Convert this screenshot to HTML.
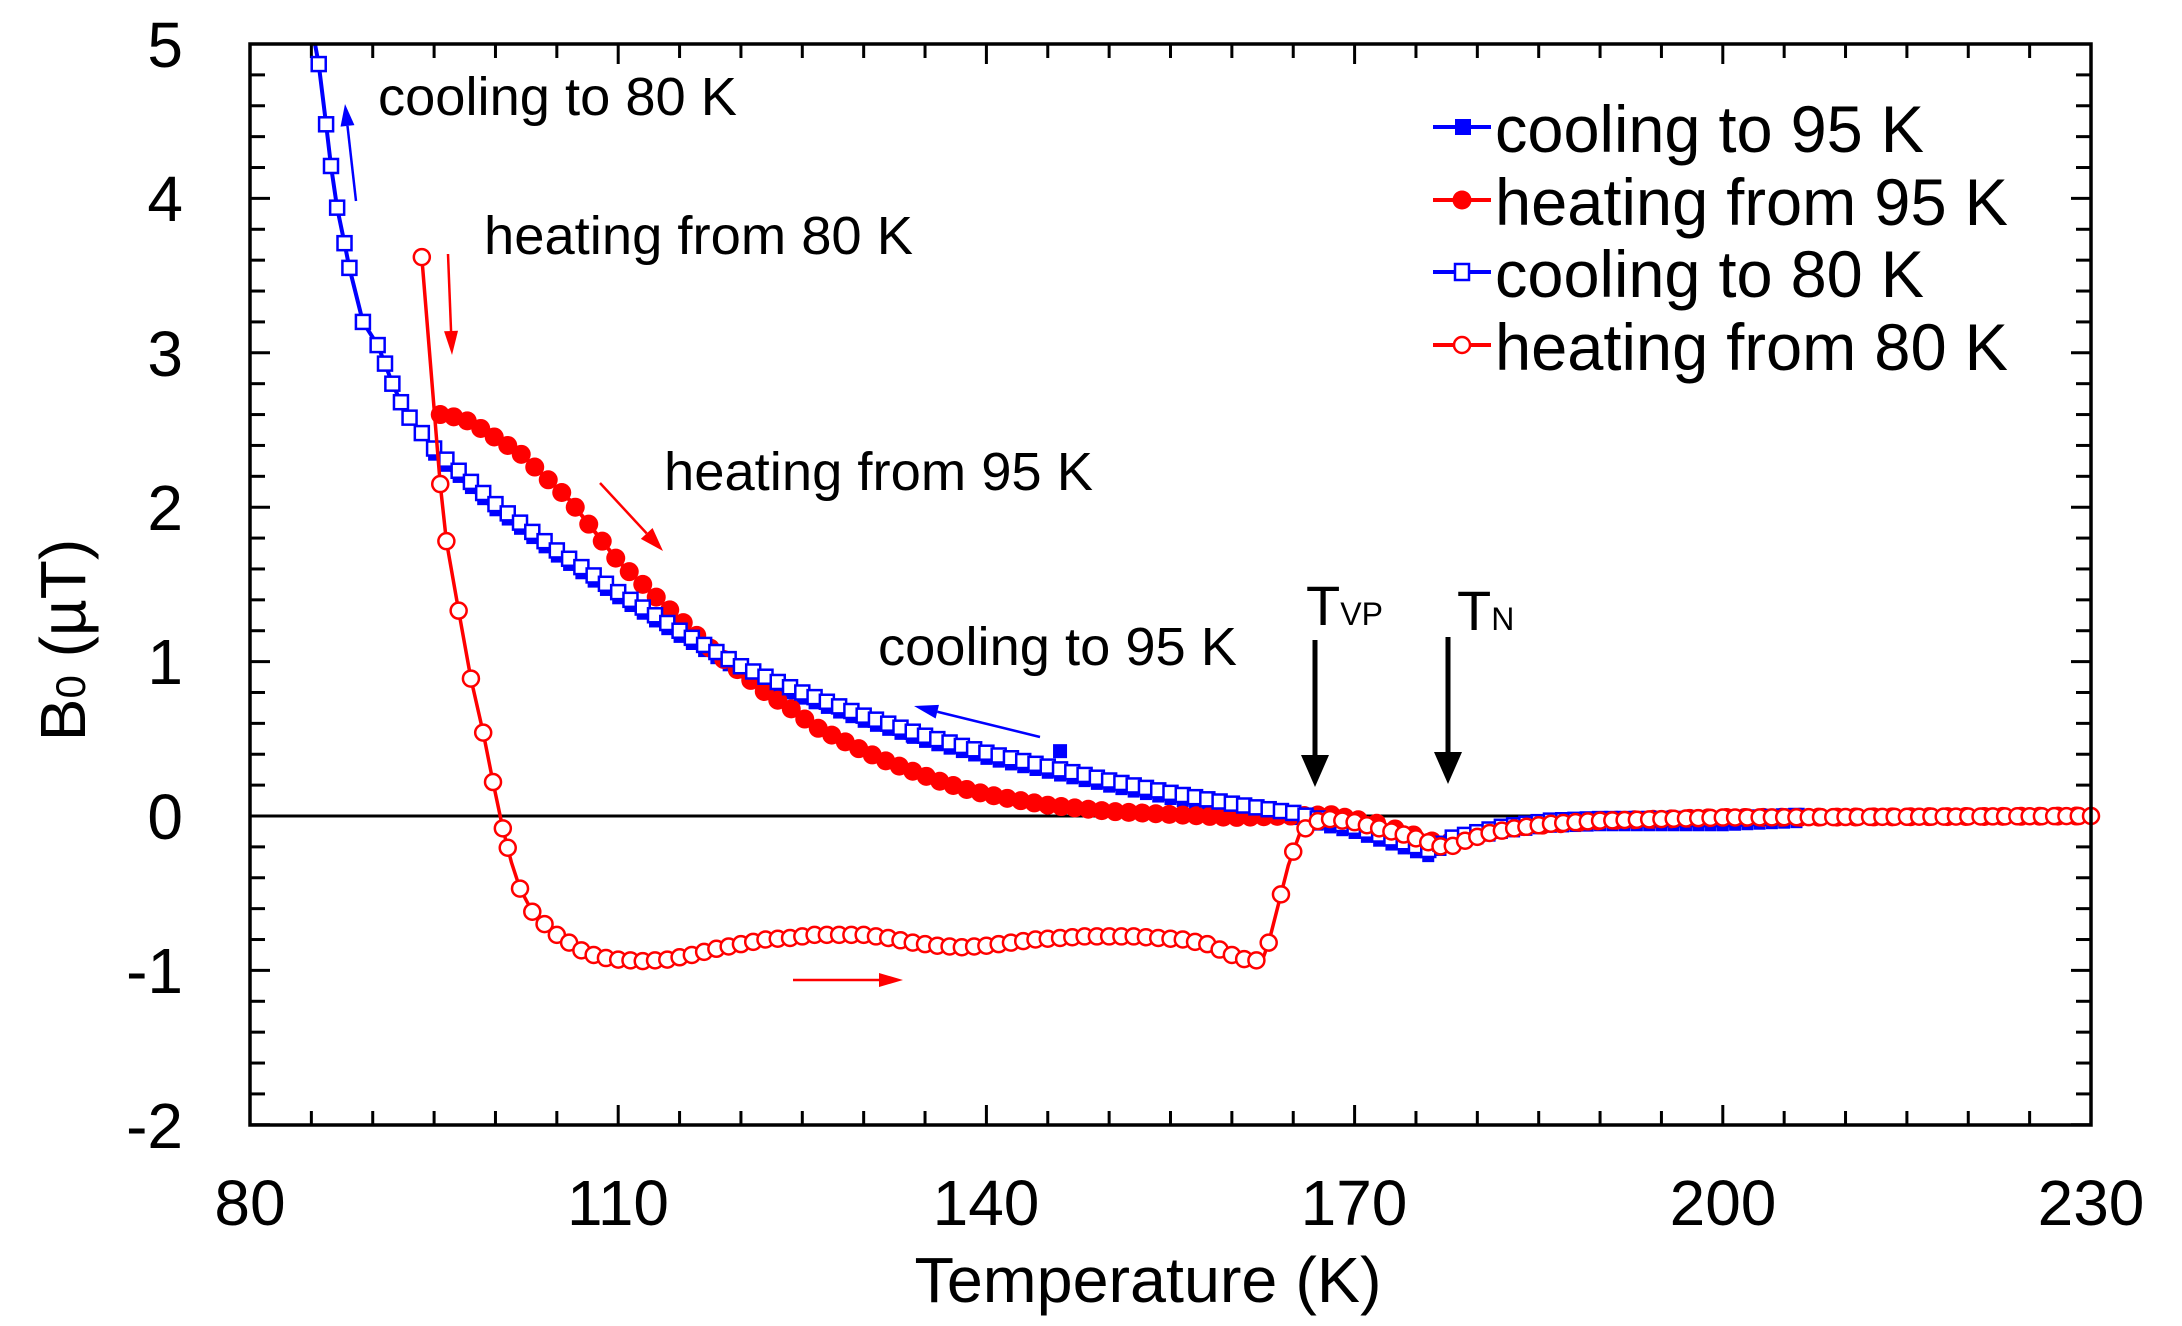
<!DOCTYPE html>
<html><head><meta charset="utf-8"><style>html,body{margin:0;padding:0;background:#fff}svg{display:block}</style></head>
<body>
<svg id="s" xmlns="http://www.w3.org/2000/svg" width="2182" height="1326" viewBox="0 0 2182 1326" font-family="Liberation Sans, Arial, sans-serif">
<rect width="2182" height="1326" fill="#fff"/>
<g id="ticks" stroke="#000" stroke-width="3"></g>
<line x1="250" y1="816" x2="2091" y2="816" stroke="#000" stroke-width="3"/>
<g id="data"></g>
<rect x="250" y="44" width="1841" height="1081" fill="none" stroke="#000" stroke-width="3.5"/>
<g font-size="64" fill="#000">
<text x="183" y="67" text-anchor="end">5</text>
<text x="183" y="221" text-anchor="end">4</text>
<text x="183" y="376" text-anchor="end">3</text>
<text x="183" y="530" text-anchor="end">2</text>
<text x="183" y="684" text-anchor="end">1</text>
<text x="183" y="839" text-anchor="end">0</text>
<text x="183" y="993" text-anchor="end">-1</text>
<text x="183" y="1148" text-anchor="end">-2</text>
<text x="250" y="1225" text-anchor="middle">80</text>
<text x="618" y="1225" text-anchor="middle">110</text>
<text x="986" y="1225" text-anchor="middle">140</text>
<text x="1354" y="1225" text-anchor="middle">170</text>
<text x="1723" y="1225" text-anchor="middle">200</text>
<text x="2091" y="1225" text-anchor="middle">230</text>
<text x="1148" y="1302" text-anchor="middle" font-size="64" textLength="467" lengthAdjust="spacingAndGlyphs">Temperature (K)</text>
<text transform="translate(85,640) rotate(-90)" text-anchor="middle" font-size="64">B<tspan font-size="42">0</tspan> (µT)</text>
</g>
<g font-size="54" fill="#000">
<text x="378" y="115" textLength="359" lengthAdjust="spacingAndGlyphs">cooling to 80 K</text>
<text x="484" y="254" textLength="429" lengthAdjust="spacingAndGlyphs">heating from 80 K</text>
<text x="664" y="490" textLength="429" lengthAdjust="spacingAndGlyphs">heating from 95 K</text>
<text x="878" y="665" textLength="359" lengthAdjust="spacingAndGlyphs">cooling to 95 K</text>
<text x="1306" y="625" font-size="56">T<tspan font-size="32">VP</tspan></text>
<text x="1457" y="630" font-size="56">T<tspan font-size="32">N</tspan></text>
</g>
<g font-size="66" fill="#000">
<text x="1495" y="152" textLength="429" lengthAdjust="spacingAndGlyphs">cooling to 95 K</text>
<text x="1495" y="225" textLength="513" lengthAdjust="spacingAndGlyphs">heating from 95 K</text>
<text x="1495" y="297" textLength="429" lengthAdjust="spacingAndGlyphs">cooling to 80 K</text>
<text x="1495" y="370" textLength="513" lengthAdjust="spacingAndGlyphs">heating from 80 K</text>
</g>
<g id="leg"></g>
<g id="arrows"></g>
</svg>
<script>
var NS="http://www.w3.org/2000/svg";
function X(t){return 250+(t-80)*1841/150;}
function Y(b){return 816-b*154.4;}
function el(p,tag,a){var e=document.createElementNS(NS,tag);for(var k in a)e.setAttribute(k,a[k]);p.appendChild(e);return e;}
var tk=document.getElementById('ticks');
for(var v=-2;v<=5.001;v+=0.2){var vv=Math.round(v*10)/10;var maj=Math.abs(vv-Math.round(vv))<1e-6;var L=maj?20:15;var y=Y(vv);
 el(tk,'line',{x1:250,y1:y,x2:250+L,y2:y});el(tk,'line',{x1:2091,y1:y,x2:2091-L,y2:y});}
for(var t=80;t<=230;t+=5){var maj=(t-80)%30==0;var L=maj?20:14;var x=X(t);el(tk,'line',{x1:x,y1:1125,x2:x,y2:1125-L});el(tk,'line',{x1:x,y1:44,x2:x,y2:44+L});}
function interp(k,t){for(var i=0;i<k.length-1;i++){if(t>=k[i][0]&&t<=k[i+1][0]){var f=(t-k[i][0])/(k[i+1][0]-k[i][0]);return k[i][1]+f*(k[i+1][1]-k[i][1]);}}return k[k.length-1][1];}
function path(k){return k.map(function(p,i){return (i?'L':'M')+X(p[0]).toFixed(1)+','+Y(p[1]).toFixed(1);}).join('');}
var D=document.getElementById('data');
var blue=[[85.3,5.0],[85.6,4.87],[86.2,4.48],[86.6,4.21],[87.1,3.94],[87.7,3.71],[88.1,3.55],[89.2,3.2],[90.4,3.05],[91,2.93],[91.6,2.8],[92.3,2.68],[93,2.58],[95,2.38],[100,2.02],[105,1.72],[110,1.45],[115,1.2],[120,0.97],[125,0.8],[130,0.65],[135,0.52],[140,0.41],[145,0.32],[150,0.23],[155,0.15],[160,0.08],[165,0.02],[170,-0.07],[176,-0.22],[178,-0.14],[182,-0.07],[186,-0.03],[190,-0.02],[200,-0.02],[206,0]];
var blueF=[];for(var t=95;t<=206;t+=1){blueF.push([t,interp(blue,t)-0.04]);}
var red95=[[95.5,2.6],[97,2.58],[98,2.55],[100,2.45],[102,2.35],[104,2.2],[106,2.05],[108,1.85],[110,1.65],[112,1.5],[114,1.35],[116,1.2],[118,1.05],[120,0.93],[122,0.8],[124,0.7],[126,0.58],[128,0.5],[130,0.42],[132,0.35],[134,0.29],[136,0.23],[138,0.18],[140,0.14],[142,0.11],[145,0.07],[150,0.03],[155,0.01],[160,-0.01],[165,0.0],[168,0.01],[172,-0.05],[177,-0.18],[182,-0.08],[190,-0.03],[200,-0.01],[230,0]];
var red80=[[94,3.62],[95.5,2.15],[96,1.78],[97,1.33],[98,0.89],[99,0.54],[99.8,0.22],[100.6,-0.08],[101.3,-0.3],[102,-0.47],[103,-0.62],[104,-0.7],[105,-0.77],[106,-0.82],[107,-0.87],[108,-0.9],[109,-0.92],[110,-0.93],[112,-0.94],[114,-0.93],[116,-0.9],[118,-0.86],[120,-0.83],[122,-0.8],[124,-0.79],[126,-0.77],[128,-0.77],[130,-0.77],[132,-0.79],[134,-0.82],[136,-0.84],[138,-0.85],[140,-0.84],[142,-0.82],[144,-0.8],[146,-0.79],[148,-0.78],[150,-0.78],[152,-0.78],[154,-0.79],[156,-0.8],[158,-0.83],[160,-0.9],[161.5,-0.94],[162.5,-0.93],[163,-0.82],[164.6,-0.32],[165.5,-0.12],[166.5,-0.04],[168,-0.02],[170,-0.04],[172,-0.08],[174,-0.12],[176,-0.17],[177.5,-0.21],[179,-0.16],[181,-0.11],[183,-0.08],[186,-0.05],[190,-0.03],[195,-0.02],[200,-0.01],[230,0]];
el(D,'path',{d:path(blueF),fill:'none',stroke:'#0000ff','stroke-width':4});
blueF.forEach(function(p){el(D,'rect',{x:X(p[0])-6,y:Y(p[1])-6,width:12,height:12,fill:'#0000ff'});});
el(D,'rect',{x:X(146)-7,y:Y(0.42)-7,width:14,height:14,fill:'#0000ff'});
el(D,'rect',{x:X(134)-7,y:Y(0.52)-7,width:14,height:14,fill:'#0000ff'});
var r95=[];for(var t=95.5;t<=230;t+=(t<170?1.1:1.5)){r95.push([t,interp(red95,t)]);}
el(D,'path',{d:path(red95),fill:'none',stroke:'#ff0000','stroke-width':4});
r95.forEach(function(p){el(D,'circle',{cx:X(p[0]),cy:Y(p[1]),r:9.5,fill:'#ff0000'});});
el(D,'path',{d:path(blue),fill:'none',stroke:'#0000ff','stroke-width':4});
var bm=blue.slice(1,13).map(function(p){return p;});for(var t=94;t<=206;t+=1){bm.push([t,interp(blue,t)]);}
bm.forEach(function(p){el(D,'rect',{x:X(p[0])-7,y:Y(p[1])-7,width:14,height:14,fill:'#fff',stroke:'#0000ff','stroke-width':2.5});});
el(D,'path',{d:path(red80),fill:'none',stroke:'#ff0000','stroke-width':3.5});
var rm=red80.slice(0,8);for(var t=101;t<=230;t+=1){rm.push([t,interp(red80,t)]);}
rm.forEach(function(p){el(D,'circle',{cx:X(p[0]),cy:Y(p[1]),r:8,fill:'#fff',stroke:'#ff0000','stroke-width':2.5});});
var G=document.getElementById('leg');
var rows=[[127,'#0000ff','fs'],[200,'#ff0000','fc'],[272,'#0000ff','os'],[345,'#ff0000','oc']];
rows.forEach(function(r){el(G,'line',{x1:1433,y1:r[0],x2:1491,y2:r[0],stroke:r[1],'stroke-width':4});
 if(r[2]=='fs')el(G,'rect',{x:1455,y:r[0]-8,width:16,height:16,fill:r[1]});
 if(r[2]=='fc')el(G,'circle',{cx:1462,cy:r[0],r:9.5,fill:r[1]});
 if(r[2]=='os')el(G,'rect',{x:1455,y:r[0]-8,width:14,height:16,fill:'#fff',stroke:r[1],'stroke-width':2.5});
 if(r[2]=='oc')el(G,'circle',{cx:1462,cy:r[0],r:8,fill:'#fff',stroke:r[1],'stroke-width':2.5});});
var A=document.getElementById('arrows');
function arrow(x1,y1,x2,y2,c,w,hl,hw){var dx=x2-x1,dy=y2-y1,l=Math.sqrt(dx*dx+dy*dy),ux=dx/l,uy=dy/l;
 var bx=x2-ux*hl,by=y2-uy*hl;el(A,'line',{x1:x1,y1:y1,x2:bx,y2:by,stroke:c,'stroke-width':w});
 el(A,'polygon',{points:x2+','+y2+' '+(bx-uy*hw)+','+(by+ux*hw)+' '+(bx+uy*hw)+','+(by-ux*hw),fill:c});}
arrow(356,201,345,104,'#0000ff',2.5,22,7);
arrow(448,254,452,355,'#ff0000',2.5,24,7);
arrow(600,483,663,551,'#ff0000',2.5,24,8);
arrow(1040,737,914,706,'#0000ff',2.5,24,7);
arrow(793,980,903,980,'#ff0000',2.5,24,7);
arrow(1315,640,1315,787,'#000',5,32,14);
arrow(1448,637,1448,784,'#000',5,32,14);
</script>
</body></html>
